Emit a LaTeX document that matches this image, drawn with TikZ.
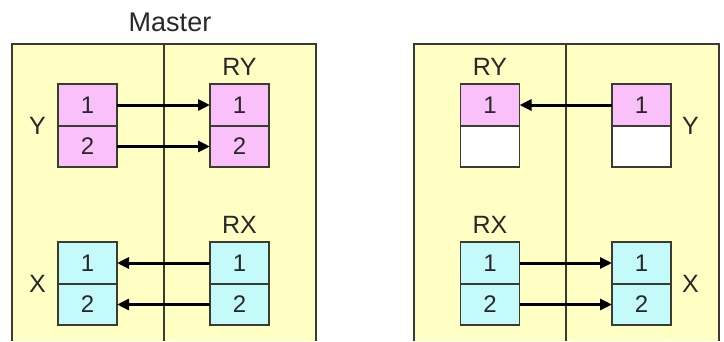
\documentclass[tikz,border=0pt]{standalone}
\usepackage{fontspec}
\setmainfont{Liberation Sans}
\usetikzlibrary{positioning,arrows.meta}
\definecolor{panelyellow}{RGB}{255,255,196}
\definecolor{cellpink}{RGB}{250,192,250}
\definecolor{cellcyan}{RGB}{196,250,250}
\definecolor{edgegray}{RGB}{58,60,50}
\definecolor{textgray}{RGB}{40,40,40}

\begin{document}
\begin{tikzpicture}[x=1pt,y=-1pt,>={Triangle[length=12pt,width=11pt]},
    cell/.style={draw=edgegray,line width=1.8pt,minimum width=59pt,minimum height=41.5pt,
      inner sep=0pt,outer sep=0pt,text=textgray,font=\fontsize{24}{24}\selectfont},
    pinkcell/.style={cell,fill=cellpink},
    cyancell/.style={cell,fill=cellcyan},
    blankcell/.style={cell,fill=white},
    lbl/.style={inner sep=0pt,text=textgray,font=\fontsize{25}{25}\selectfont},
    link/.style={->,line width=3pt,black}]
    \useasboundingbox (0,0) rectangle (724,341);

    % 两个面板
    \fill[panelyellow] (12,44) rectangle (316,341);
    \fill[panelyellow] (414,44) rectangle (719,341);
    \draw[edgegray,line width=2pt] (12,341) -- (12,44) -- (316,44) -- (316,341);
    \draw[edgegray,line width=2pt] (414,341) -- (414,44) -- (719,44) -- (719,341);
    \draw[edgegray,line width=1.5pt] (164,44) -- (164,341);
    \draw[edgegray,line width=1.5pt] (566,44) -- (566,341);
    \node[lbl,font=\fontsize{27}{27}\selectfont] (master) at (170,22) {Master};

    % 左面板: Y -> RY, RX -> X
    \node[pinkcell] (y1) at (87.5,105) {1};
    \node[pinkcell,below=0pt of y1] (y2) {2};
    \node[pinkcell] (ry1) at (239.5,105) {1};
    \node[pinkcell,below=0pt of ry1] (ry2) {2};
    \node[cyancell] (x1) at (87.5,263) {1};
    \node[cyancell,below=0pt of x1] (x2) {2};
    \node[cyancell] (rx1) at (239.5,263) {1};
    \node[cyancell,below=0pt of rx1] (rx2) {2};
    \node[lbl,left=12pt of y1.south west] (ylbl) {Y};
    \node[lbl,left=12pt of x1.south west] (xlbl) {X};
    \node[lbl,above=9pt of ry1] (rylbl) {RY};
    \node[lbl,above=9pt of rx1] (rxlbl) {RX};
    \draw[link] (y1) -- (ry1);
    \draw[link] (y2) -- (ry2);
    \draw[link] (rx1) -- (x1);
    \draw[link] (rx2) -- (x2);

    % 右面板: Y -> RY, RX -> X
    \node[pinkcell] (sry1) at (490,105) {1};
    \node[blankcell,below=0pt of sry1] (sry2) {};
    \node[pinkcell] (sy1) at (641.5,105) {1};
    \node[blankcell,below=0pt of sy1] (sy2) {};
    \node[cyancell] (srx1) at (490,263) {1};
    \node[cyancell,below=0pt of srx1] (srx2) {2};
    \node[cyancell] (sx1) at (641.5,263) {1};
    \node[cyancell,below=0pt of sx1] (sx2) {2};
    \node[lbl,right=11pt of sy1.south east] (sylbl) {Y};
    \node[lbl,right=11pt of sx1.south east] (sxlbl) {X};
    \node[lbl,above=9pt of sry1] (srylbl) {RY};
    \node[lbl,above=9pt of srx1] (srxlbl) {RX};
    \draw[link] (sy1) -- (sry1);
    \draw[link] (srx1) -- (sx1);
    \draw[link] (srx2) -- (sx2);
\end{tikzpicture}
\end{document}
